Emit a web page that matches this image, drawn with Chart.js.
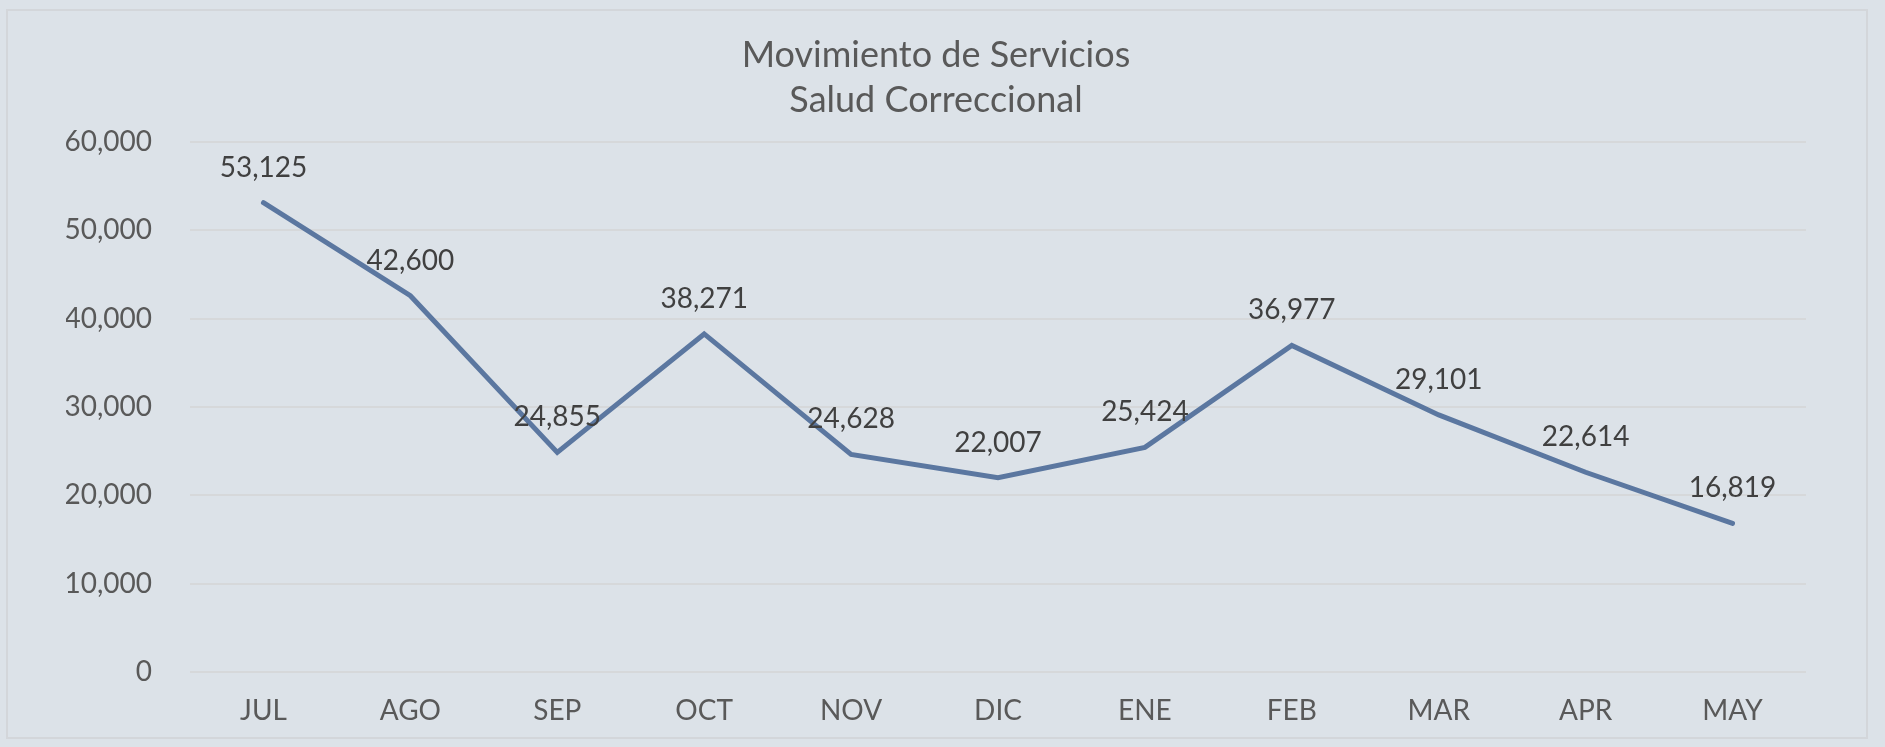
<!DOCTYPE html>
<html>
<head>
<meta charset="utf-8">
<script src="https://cdn.jsdelivr.net/npm/chart.js@4.4.0/dist/chart.umd.min.js"></script>
<style>
    html, body { margin: 0; padding: 0; background: #dce2e8; overflow: hidden; }
    #wrap { position: relative; width: 1885px; height: 747px; }
    #frame { position: absolute; left: 6px; top: 9px; width: 1858px; height: 726px; border: 2px solid #d3d6da; pointer-events: none; }
</style>
</head>
<body>
<div id="wrap">
    <canvas id="serviciosChart" width="1885" height="747"></canvas>
    <div id="frame"></div>
</div>
<script>
// Data
const months = ['JUL', 'AGO', 'SEP', 'OCT', 'NOV', 'DIC', 'ENE', 'FEB', 'MAR', 'APR', 'MAY'];
const servicios = [53125, 42600, 24855, 38271, 24628, 22007, 25424, 36977, 29101, 22614, 16819];
const titleLines = ['Movimiento de Servicios', 'Salud Correccional'];

const FONT = 'Lato, "Open Sans", sans-serif';
const fmt = v => v.toLocaleString('en-US');

// Value labels above each point
const pointLabels = {
    id: 'pointLabels',
    afterDatasetsDraw(chart) {
        const ctx = chart.ctx;
        const meta = chart.getDatasetMeta(0);
        ctx.save();
        ctx.font = '28px ' + FONT;
        ctx.fillStyle = '#404040';
        ctx.textAlign = 'center';
        ctx.textBaseline = 'middle';
        meta.data.forEach((pt, i) => {
            ctx.fillText(fmt(servicios[i]), pt.x, pt.y - 35);
        });
        ctx.restore();
    }
};

const ctx = document.getElementById('serviciosChart').getContext('2d');
const chart = new Chart(ctx, {
    type: 'line',
    data: {
        labels: months,
        datasets: [{
            label: 'Servicios',
            data: servicios,
            borderColor: '#5b77a0',
            borderWidth: 5,
            borderCapStyle: 'round',
            borderJoinStyle: 'miter',
            pointRadius: 0,
            pointHoverRadius: 0,
            fill: false,
            tension: 0
        }]
    },
    options: {
        responsive: false,
        animation: false,
        layout: {
            padding: { left: 66, right: 79, top: 0, bottom: 25 }
        },
        plugins: {
            legend: { display: false },
            tooltip: { enabled: false },
            title: {
                display: true,
                text: titleLines,
                color: '#595959',
                font: { family: FONT, size: 36, weight: 'normal', lineHeight: 1.25 },
                padding: { top: 33, bottom: 19 }
            }
        },
        scales: {
            x: {
                offset: true,
                grid: { display: false, drawTicks: false },
                border: { display: false },
                ticks: {
                    color: '#595959',
                    font: { family: FONT, size: 28 },
                    padding: 22,
                    maxRotation: 0
                },
                afterFit(scale) { scale.height = 50; }
            },
            y: {
                min: 0,
                max: 60000,
                grid: { color: '#d6d8da', lineWidth: 2, drawTicks: false },
                border: { display: false },
                ticks: {
                    stepSize: 10000,
                    color: '#595959',
                    font: { family: FONT, size: 28 },
                    padding: 38,
                    callback: v => fmt(v)
                },
                afterFit(scale) { scale.width = 124; }
            }
        }
    },
    plugins: [pointLabels]
});
</script>
</body>
</html>
